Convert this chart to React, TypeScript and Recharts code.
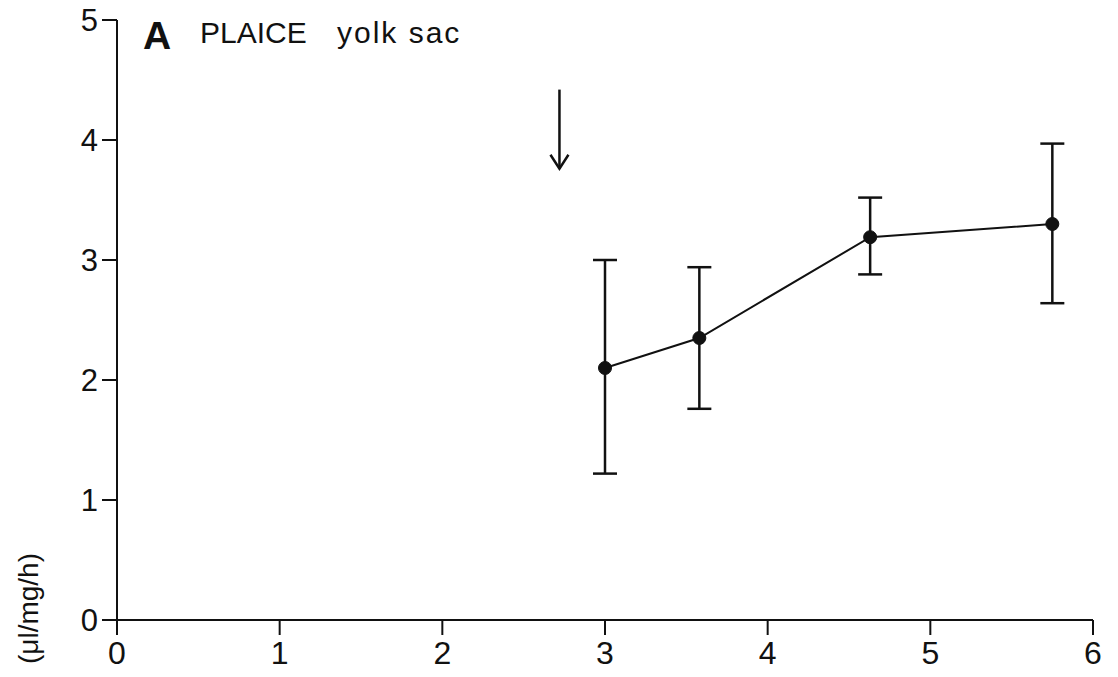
import {
  ComposedChart,
  Line,
  XAxis,
  YAxis,
  ErrorBar,
  ReferenceLine,
  ReferenceDot,
  Customized,
} from "recharts";

// age (days) of the yolk-sac larvae
const ages = [3.0, 3.58, 4.63, 5.75];
// mean oxygen uptake (µl/mg/h) with upper / lower limits
const means = [2.1, 2.35, 3.19, 3.3];
const upper = [3.0, 2.94, 3.52, 3.97];
const lower = [1.22, 1.76, 2.88, 2.64];

const xTicks = [0, 1, 2, 3, 4, 5, 6];
const yTicks = [0, 1, 2, 3, 4, 5];

// arrow marking the stage change
const arrowX = 2.72;
const arrowTop = 4.42;
const arrowTip = 3.76;

const FONT = "Liberation Sans, Arial, sans-serif";
const INK = "#111";

const rows = ages.map((age, i) => ({
  age,
  rate: means[i],
  err: [means[i] - lower[i], upper[i] - means[i]],
}));

const ArrowHead = (props: { cx?: number; cy?: number }) => {
  const { cx = 0, cy = 0 } = props;
  return (
    <path
      d={`M${cx - 9},${cy - 14} L${cx},${cy} L${cx + 9},${cy - 14}`}
      fill="none"
      stroke={INK}
      strokeWidth={2.5}
    />
  );
};

const Labels = () => (
  <g fontFamily={FONT} fill={INK}>
    <text x={143} y={49} fontSize={39} fontWeight="bold">
      A
    </text>
    <text x={200} y={43} fontSize={30}>
      PLAICE
    </text>
    <text x={337} y={43} fontSize={30} letterSpacing={2}>
      yolk sac
    </text>
    <text
      x={38}
      y={553}
      fontSize={28}
      transform="rotate(-90 38 553)"
      textAnchor="end"
    >
      (μl/mg/h)
    </text>
  </g>
);

export default function App() {
  return (
    <div style={{ position: "absolute", left: 0, top: 0, background: "#fff" }}>
      <ComposedChart
        width={1118}
        height={677}
        data={rows}
        margin={{ top: 20, right: 25, bottom: 7, left: 57 }}
      >
        <XAxis
          dataKey="age"
          type="number"
          domain={[0, 6]}
          ticks={xTicks}
          interval={0}
          height={50}
          tickSize={15}
          tickMargin={6}
          axisLine={{ stroke: INK, strokeWidth: 2 }}
          tickLine={{ stroke: INK, strokeWidth: 2 }}
          tick={{ fill: INK, fontSize: 32, fontFamily: FONT }}
        />
        <YAxis
          type="number"
          domain={[0, 5]}
          ticks={yTicks}
          interval={0}
          width={60}
          tickSize={15}
          tickMargin={4}
          axisLine={{ stroke: INK, strokeWidth: 2 }}
          tickLine={{ stroke: INK, strokeWidth: 2 }}
          tick={{ fill: INK, fontSize: 31, fontFamily: FONT }}
        />
        <ReferenceLine
          segment={[
            { x: arrowX, y: arrowTop },
            { x: arrowX, y: arrowTip },
          ]}
          stroke={INK}
          strokeWidth={2.5}
          ifOverflow="visible"
        />
        <ReferenceDot
          x={arrowX}
          y={arrowTip}
          shape={<ArrowHead />}
          ifOverflow="visible"
        />
        <Line
          dataKey="rate"
          type="linear"
          stroke={INK}
          strokeWidth={2}
          dot={{ r: 6.5, fill: INK, stroke: INK, strokeWidth: 1 }}
          activeDot={false}
          isAnimationActive={false}
        >
          <ErrorBar
            dataKey="err"
            width={12}
            stroke={INK}
            strokeWidth={2.5}
            isAnimationActive={false}
          />
        </Line>
        <Customized component={Labels} />
      </ComposedChart>
    </div>
  );
}
